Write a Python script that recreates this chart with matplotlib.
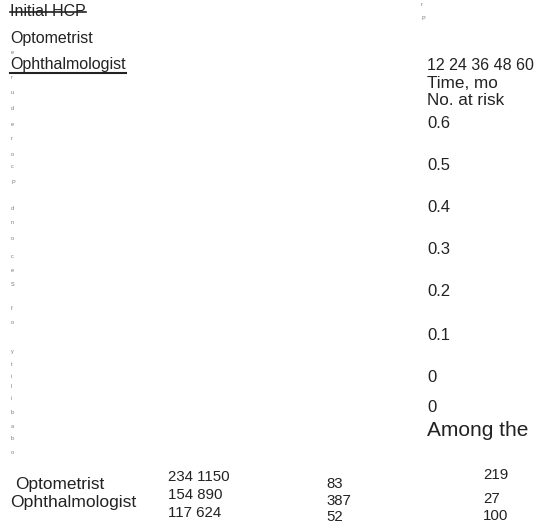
import matplotlib.pyplot as plt

plt.rcParams['font.family'] = ['Liberation Sans', 'DejaVu Sans']

W, H = 535, 525

# legend / group names
legend_title = 'Initial HCP'
groups = ['Optometrist', 'Ophthalmologist']

# y axis label, drawn letter by letter (as in the source)
ylabel_letters = list('eruderocP' + 'dnoceS' + 'fo' + 'ytilibabo')
ylabel_top = ['r', 'P']

# axis texts
xticks = '12 24 36 48 60'
xlabel = 'Time, mo'
risk_title = 'No. at risk'
yticks = ['0.6', '0.5', '0.4', '0.3', '0.2', '0.1', '0', '0']
note = 'Among the'

# number at risk table
risk_col1 = ['234 1150', '154 890', '117 624']
risk_col2 = ['83', '387', '52']
risk_col3 = ['219', '27', '100']

# layout (pixels)
ylabel_y = [52, 77, 92, 108, 124, 138, 154, 167, 182,
            209, 223, 239, 256, 270, 284,
            308, 323,
            352, 364, 376, 387, 399, 413, 426, 439, 453]
ytick_y = [123, 165, 207, 250, 292, 335, 377, 407]


fig = plt.figure(figsize=(W / 100, H / 100), dpi=100)


def put(x, y, s, size=11.5, **kw):
    return fig.text(x / W, 1 - y / H, s, fontsize=size, va='center', ha='left', **kw)


# legend block, top left
t = put(10, 12, legend_title, color='#222222')
fig.canvas.draw()
bb = t.get_window_extent()
fig.add_artist(plt.Line2D([bb.x0 / W, bb.x1 / W], [(bb.y0 + bb.y1) / 2 / H] * 2,
                          color='#222222', lw=1.2))
put(10, 38, groups[0], color='#222222')
t = put(10, 64, groups[1], color='#222222')
fig.canvas.draw()
bb = t.get_window_extent()
fig.add_artist(plt.Line2D([bb.x0 / W, bb.x1 / W], [(bb.y0 - 1.5) / H] * 2,
                          color='#222222', lw=1.5))

# tiny rotated-looking axis title letters
for ch, y in zip(ylabel_letters, ylabel_y):
    put(11, y, ch, size=4, color='#777777')
put(421, 4, ylabel_top[0], size=4, color='#777777')
put(421, 19, ylabel_top[1], size=4, color='#777777')

# right column
put(427, 65, xticks, size=11.5, color='#222222')
put(427, 83, xlabel, size=12.3, color='#222222')
put(427, 101, risk_title, size=12.3, color='#222222')
for s, y in zip(yticks, ytick_y):
    put(427, y, s, size=12, color='#222222')
put(427, 431, note, size=15, color='#222222')

# number at risk rows
put(15, 484, groups[0], size=12.4, color='#222222')
put(10, 502, groups[1], size=12.6, color='#222222')
for s, y in zip(risk_col1, [477, 495, 513]):
    put(168, y, s, size=10.8, color='#222222')
for s, y in zip(risk_col2, [484, 501, 517]):
    put(326, y, s, size=10.8, color='#222222')
for s, y in zip(risk_col3, [475, 499, 516]):
    put(483, y, s, size=10.8, color='#222222')

fig.savefig('out.png', dpi=100)
